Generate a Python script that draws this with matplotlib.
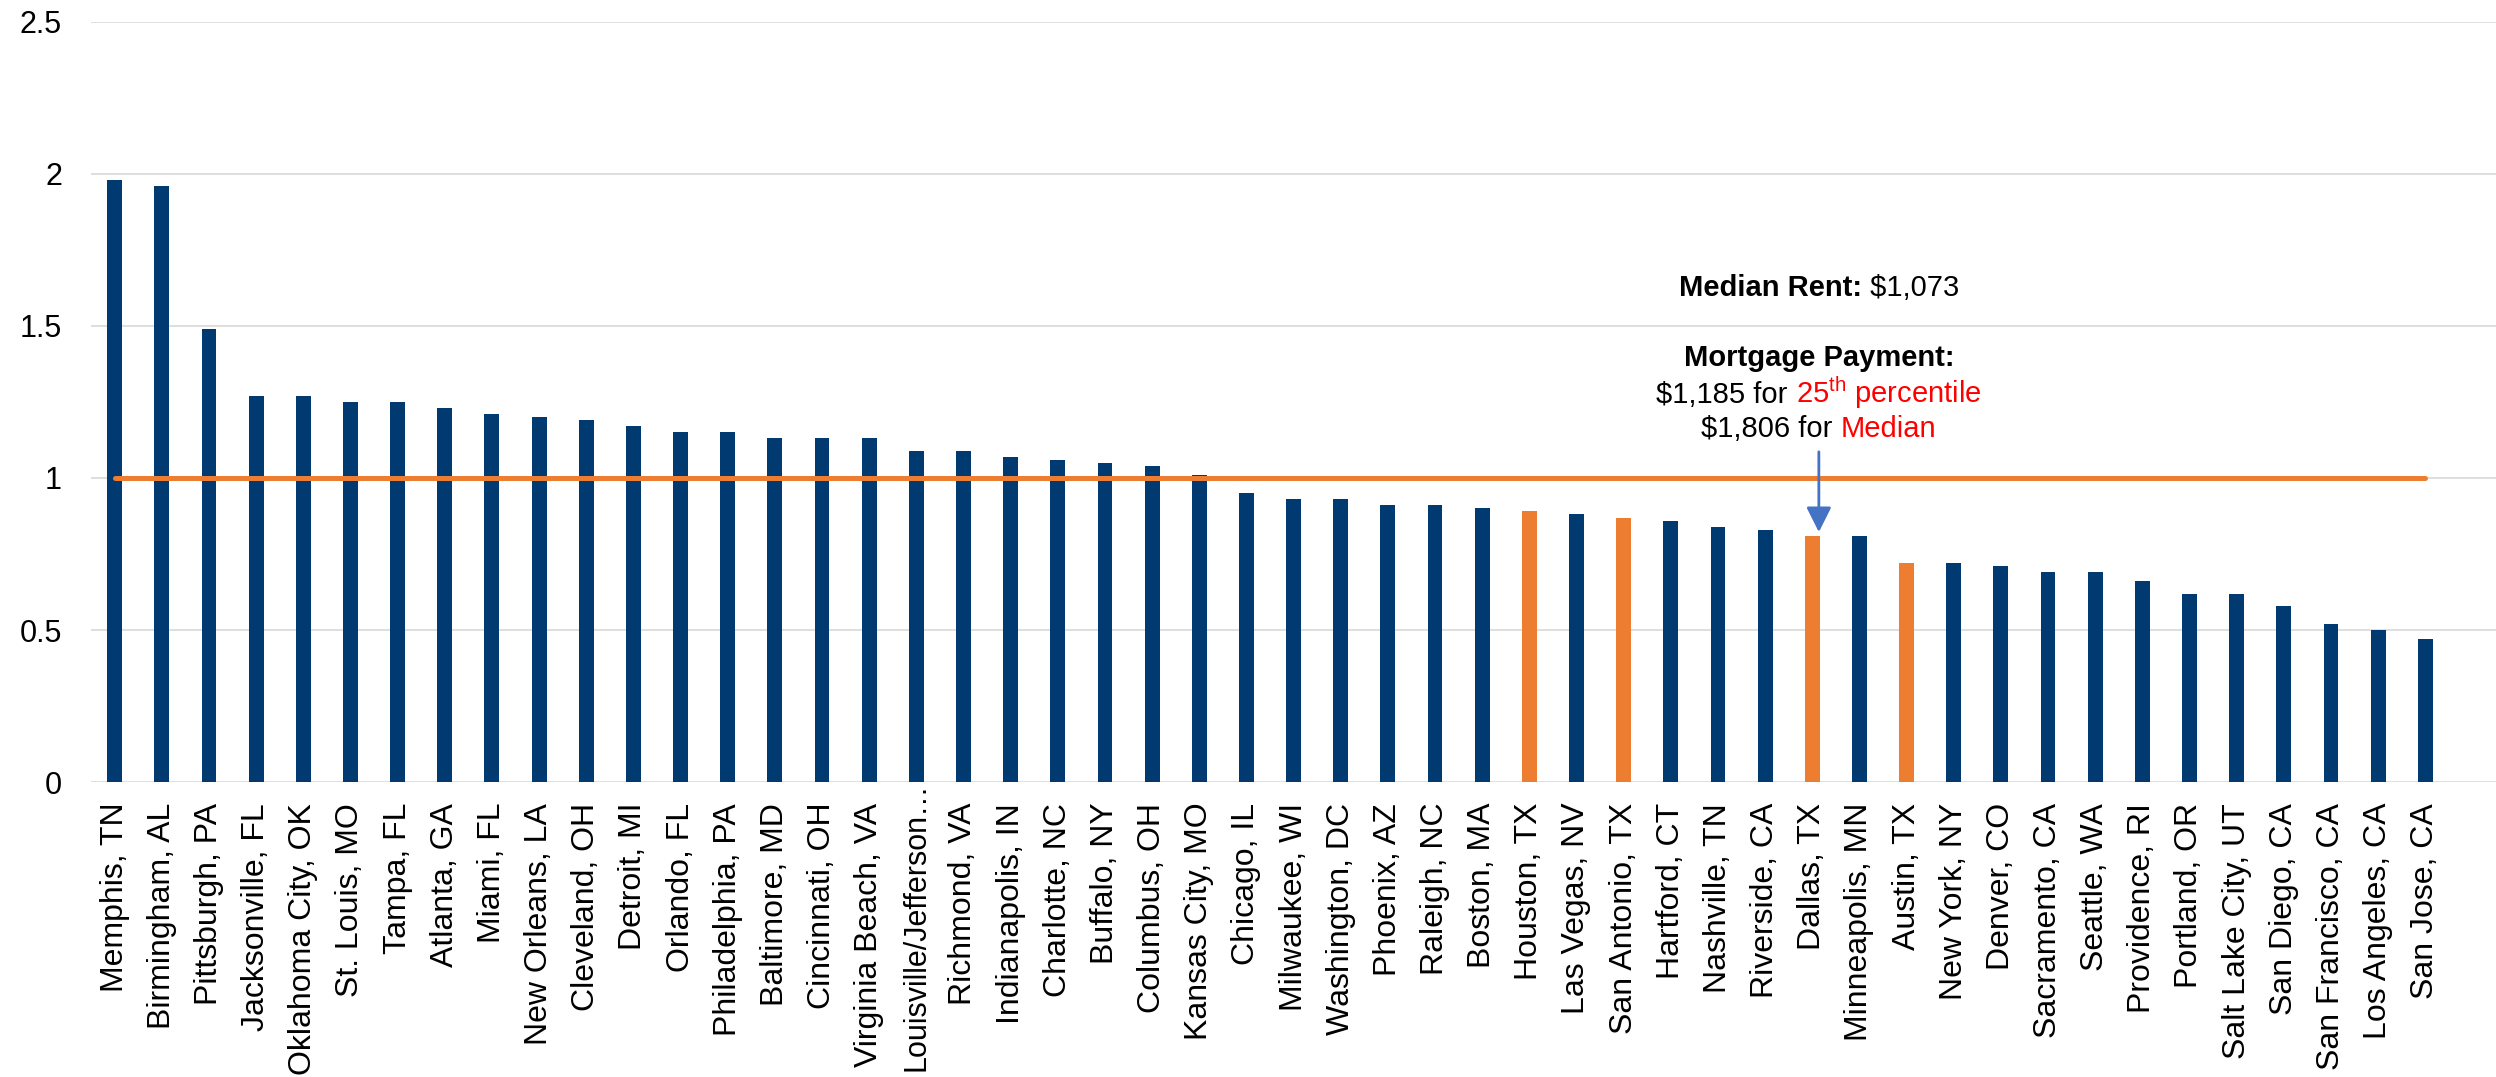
import numpy as np
import matplotlib
matplotlib.use('Agg')
import matplotlib.pyplot as plt
import matplotlib.transforms as mtransforms
from matplotlib.offsetbox import TextArea, HPacker, AnnotationBbox

plt.rcParams['font.family'] = ['Liberation Sans', 'DejaVu Sans']
plt.rcParams['mathtext.fontset'] = 'custom'
plt.rcParams['mathtext.rm'] = 'Liberation Sans'
plt.rcParams['mathtext.it'] = 'Liberation Sans:italic'
plt.rcParams['mathtext.bf'] = 'Liberation Sans:bold'

metros = ['Memphis, TN', 'Birmingham, AL', 'Pittsburgh, PA', 'Jacksonville, FL',
          'Oklahoma City, OK', 'St. Louis, MO', 'Tampa, FL', 'Atlanta, GA',
          'Miami, FL', 'New Orleans, LA', 'Cleveland, OH', 'Detroit, MI',
          'Orlando, FL', 'Philadelphia, PA', 'Baltimore, MD', 'Cincinnati, OH',
          'Virginia Beach, VA', 'Louisville/Jefferson\u2026', 'Richmond, VA',
          'Indianapolis, IN', 'Charlotte, NC', 'Buffalo, NY', 'Columbus, OH',
          'Kansas City, MO', 'Chicago, IL', 'Milwaukee, WI', 'Washington, DC',
          'Phoenix, AZ', 'Raleigh, NC', 'Boston, MA', 'Houston, TX',
          'Las Vegas, NV', 'San Antonio, TX', 'Hartford, CT', 'Nashville, TN',
          'Riverside, CA', 'Dallas, TX', 'Minneapolis, MN', 'Austin, TX',
          'New York, NY', 'Denver, CO', 'Sacramento, CA', 'Seattle, WA',
          'Providence, RI', 'Portland, OR', 'Salt Lake City, UT', 'San Diego, CA',
          'San Francisco, CA', 'Los Angeles, CA', 'San Jose, CA']

ratios = [1.98, 1.96, 1.49, 1.27, 1.27, 1.25, 1.25, 1.23, 1.21, 1.20,
          1.19, 1.17, 1.15, 1.15, 1.13, 1.13, 1.13, 1.09, 1.09, 1.07,
          1.06, 1.05, 1.04, 1.01, 0.95, 0.93, 0.93, 0.91, 0.91, 0.90,
          0.89, 0.88, 0.87, 0.86, 0.84, 0.83, 0.81, 0.81, 0.72, 0.72,
          0.71, 0.69, 0.69, 0.66, 0.62, 0.62, 0.58, 0.52, 0.50, 0.47]

texas = ['Houston, TX', 'San Antonio, TX', 'Dallas, TX', 'Austin, TX']
breakeven = 1.0

yticks = [0, 0.5, 1, 1.5, 2, 2.5]
ytick_labels = ['0', '0.5', '1', '1.5', '2', '2.5']

BLUE = '#003A70'
ORANGE = '#ED7D31'
GRID = '#D9D9D9'

fig = plt.figure(figsize=(24.96, 10.77), dpi=100)
ax = fig.add_axes([0.0365, 0.2739, 0.9635, 0.7057])

x = np.arange(len(metros))
colors = [ORANGE if m in texas else BLUE for m in metros]
ax.bar(x, ratios, width=0.315, color=colors, zorder=2)

ax.plot([x[0], x[-1]], [breakeven, breakeven], color=ORANGE, lw=3.6,
        solid_capstyle='round', zorder=3)

ax.set_xlim(-0.5, 50.5)
ax.set_ylim(0, 2.5)
ax.set_yticks(yticks)
ax.set_yticklabels(ytick_labels)
ax.set_xticks(x)
ax.set_xticklabels(metros, rotation=90)
ax.tick_params(axis='both', length=0, colors='black')
ax.tick_params(axis='y', pad=21, labelsize=22)
ax.tick_params(axis='x', pad=15, labelsize=23)
ax.yaxis.grid(True, color=GRID, lw=1.2, zorder=0)
ax.set_axisbelow(True)
for s in ax.spines.values():
    s.set_visible(False)

# the truncated label runs the full height, like excel draws it
for lab in ax.get_xticklabels():
    if lab.get_text().startswith('Louisville'):
        lab.set_fontsize(22)
        lab.set_transform(lab.get_transform() +
                          mtransforms.ScaledTranslation(0, 0.2, fig.dpi_scale_trans))

fs = 21
xc = 36.14


def place(parts, y):
    kids = [TextArea(t, textprops=dict(fontsize=fs, **p)) for t, p in parts]
    box = HPacker(children=kids, align='baseline', pad=0, sep=0)
    ab = AnnotationBbox(box, (xc, y), xycoords='data', frameon=False,
                        box_alignment=(0.5, 0.5), pad=0)
    ax.add_artist(ab)


place([('Median Rent:', dict(fontweight='bold')), (' $1,073', {})], 1.625)
place([('Mortgage Payment:', dict(fontweight='bold'))], 1.395)
place([('$1,185 for ', {}), (r'25$^{\mathrm{th}}$ percentile', dict(color='red'))], 1.28)
place([('$1,806 for ', {}), ('Median', dict(color='red'))], 1.16)

ax.annotate('', xy=(xc, 0.822), xytext=(xc, 1.086), xycoords='data',
            arrowprops=dict(arrowstyle='-|>,head_length=0.4,head_width=0.2',
                            color='#4472C4', lw=2, mutation_scale=38,
                            shrinkA=0, shrinkB=0), zorder=4)

fig.savefig('out.png', dpi=100)
